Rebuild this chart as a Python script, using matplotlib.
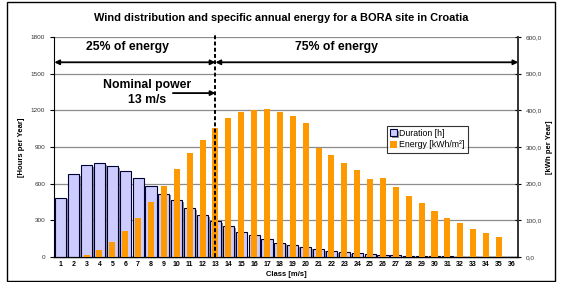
import numpy as np
import matplotlib
matplotlib.use("Agg")
import matplotlib.pyplot as plt
import matplotlib.patheffects as pe
from matplotlib.patches import Rectangle

plt.rcParams['font.family'] = ['Liberation Sans', 'DejaVu Sans']

# wind classes [m/s]
classes = list(range(1, 37))

# hours per year in each class
duration = [485, 676, 752, 766, 742, 701, 644, 583, 518, 463, 401, 340,
            294, 252, 207, 180, 145, 117, 95, 79, 63, 47, 37, 30,
            22, 16, 14, 8, 6, 5, 4, 3, 2, 2, 1, 1]

# specific annual energy kWh/m2
energy = [0, 0, 5.5, 19, 41, 71, 107, 150, 194, 240, 284, 319,
          352, 379, 395, 400, 404, 395, 384, 365, 298, 278, 257, 237,
          213, 215, 191, 167, 147, 125, 107, 93, 77, 66, 55, 0]

hours_ticks = [0, 300, 600, 900, 1200, 1500, 1800]
energy_ticks = [0, 100, 200, 300, 400, 500, 600]
nominal = 13

fig = plt.figure(figsize=(5.63, 2.82), dpi=100)
ax = fig.add_axes([0.0965, 0.0887, 0.9206 - 0.0965, 0.8688 - 0.0887])
ax2 = ax.twinx()

x = np.array(classes)
shadow = [pe.SimplePatchShadow(offset=(1.2, -1.2), shadow_rgbFace='#777777', alpha=0.8), pe.Normal()]
b1 = ax.bar(x, duration, width=0.86, color='#CCCCFF', edgecolor='#000033', linewidth=0.8,
            zorder=3, label='Duration [h]')
for p in b1:
    p.set_path_effects(shadow)
b2 = ax2.bar(x, energy, width=0.47, color='#FF9900', linewidth=0, zorder=3,
             label='Energy [kWh/m²]')

ax.set_xlim(0.5, 36.5)
ax.set_ylim(0, 1800)
ax2.set_ylim(0, 600)
ax.set_yticks(hours_ticks)
ax2.set_yticks(energy_ticks)
ax2.set_yticklabels([f"{v:.1f}".replace('.', ',') for v in energy_ticks])
ax.set_xticks(x)
ax.set_xticklabels([str(c) for c in classes], fontsize=5, fontweight='bold')
ax.tick_params(axis='x', length=0, pad=3)
ax.tick_params(axis='y', labelsize=4.6, labelcolor='#333333', direction='out', length=3, width=0.8)
ax2.tick_params(axis='y', labelsize=4.6, labelcolor='#333333', direction='inout', length=4, width=0.8)

ax.grid(axis='y', color='#8c8c8c', linewidth=0.9, zorder=0)
ax.set_axisbelow(True)
for a in (ax, ax2):
    a.spines['top'].set_visible(False)
ax.spines['left'].set_color('black')
ax.spines['left'].set_linewidth(0.8)
ax2.spines['left'].set_visible(False)
ax2.spines['right'].set_color('#333333')
ax2.spines['right'].set_linewidth(1.4)
ax.spines['bottom'].set_linewidth(1.0)
ax.spines['right'].set_visible(False)

ax.set_ylabel('[Hours per Year]', fontsize=5.5, fontweight='bold', labelpad=4)
ax2.set_ylabel('[kWh per Year]', fontsize=5.5, fontweight='bold', labelpad=3)
ax.set_xlabel('Class [m/s]', fontsize=5.5, fontweight='bold', labelpad=2)

fig.suptitle('Wind distribution and specific annual energy for a BORA site in Croatia',
             fontsize=7.9, fontweight='bold', y=0.955)

# annotations
ax2.set_zorder(ax.get_zorder() + 1)
ax2.patch.set_visible(False)
ax2.plot([nominal, nominal], [0, 610], color='black', linestyle=(0, (2, 1.2)), linewidth=1.4,
         zorder=5, clip_on=False)
arrow = dict(arrowstyle='<|-|>', color='black', lw=1.3, mutation_scale=7, shrinkA=0, shrinkB=0)
ax2.annotate('', xy=(0.5, 531), xytext=(nominal, 531), arrowprops=arrow)
ax2.annotate('', xy=(nominal, 531), xytext=(36.5, 531), arrowprops=arrow)
ax2.text(6.2, 572, '25% of energy', fontsize=8.8, fontweight='bold', ha='center', va='center')
ax2.text(22.4, 572, '75% of energy', fontsize=8.8, fontweight='bold', ha='center', va='center')
ax2.text(7.7, 470, 'Nominal power', fontsize=8.8, fontweight='bold', ha='center', va='center')
ax2.text(7.7, 427, '13 m/s', fontsize=8.8, fontweight='bold', ha='center', va='center')
ax2.annotate('', xy=(nominal, 447), xytext=(9.7, 447),
             arrowprops=dict(arrowstyle='-|>', color='black', lw=1.3, mutation_scale=7,
                             shrinkA=0, shrinkB=0))

leg = ax2.legend([b1, b2], ['Duration [h]', 'Energy [kWh/m²]'], loc='upper left',
                 bbox_to_anchor=(0.687, 0.554), bbox_transform=fig.transFigure,
                 fontsize=6.3, frameon=True, fancybox=False, shadow=False,
                 handlelength=0.8, handleheight=0.8, handletextpad=0.3,
                 borderpad=0.35, labelspacing=0.3, borderaxespad=0)
leg.get_frame().set_edgecolor('black')
leg.get_frame().set_linewidth(0.8)
leg.set_zorder(10)

# chart frame
fig.patches.append(Rectangle((7 / 563, 1.5 / 282), 548 / 563, 278.5 / 282, transform=fig.transFigure,
                             fill=False, edgecolor='black', linewidth=1.0))

fig.savefig('out.png', dpi=100)
